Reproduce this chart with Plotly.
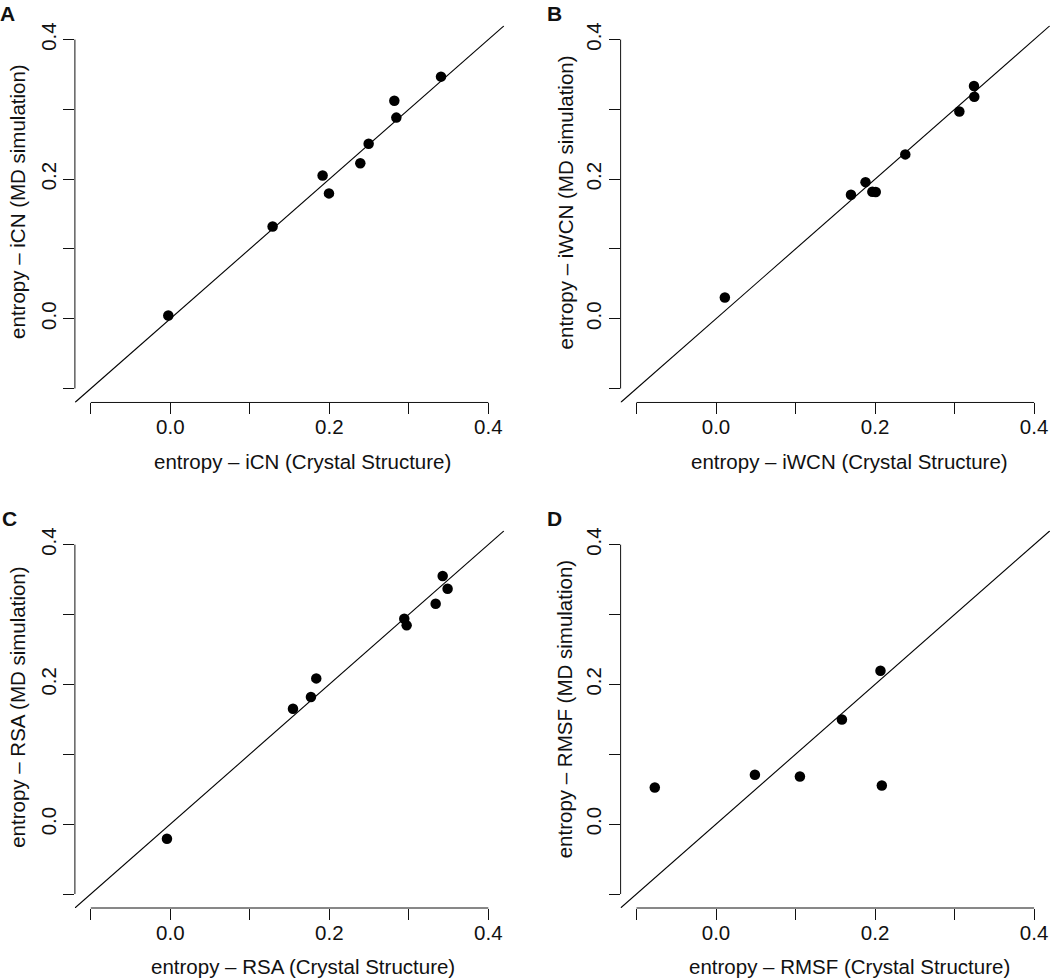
import plotly.graph_objects as go

# ---------------- data ----------------
icn_crystal = [-0.0025, 0.1287, 0.1916, 0.1996, 0.2390, 0.2495, 0.2818, 0.2843, 0.3405]
icn_md      = [0.0047, 0.1322, 0.2052, 0.1796, 0.2227, 0.2507, 0.3123, 0.2882, 0.3469]

iwcn_crystal = [0.0111, 0.1697, 0.1880, 0.1966, 0.2009, 0.2380, 0.3060, 0.3244, 0.3248]
iwcn_md      = [0.0303, 0.1777, 0.1957, 0.1820, 0.1815, 0.2355, 0.2970, 0.3336, 0.3180]

rsa_crystal = [-0.0042, 0.1543, 0.1769, 0.1836, 0.2943, 0.2973, 0.3338, 0.3426, 0.3488]
rsa_md      = [-0.0210, 0.1652, 0.1819, 0.2086, 0.2940, 0.2845, 0.3155, 0.3551, 0.3370]

rmsf_crystal = [-0.0770, 0.0489, 0.1055, 0.1583, 0.2068, 0.2085]
rmsf_md      = [0.0525, 0.0706, 0.0683, 0.1499, 0.2196, 0.0554]

panel_letters = ["A", "B", "C", "D"]
x_titles = ["entropy \u2013 iCN (Crystal Structure)", "entropy \u2013 iWCN (Crystal Structure)",
            "entropy \u2013 RSA (Crystal Structure)", "entropy \u2013 RMSF (Crystal Structure)"]
y_titles = ["entropy \u2013 iCN (MD simulation)", "entropy \u2013 iWCN (MD simulation)",
            "entropy \u2013 RSA (MD simulation)", "entropy \u2013 RMSF (MD simulation)"]
tick_vals = [-0.1, 0.0, 0.1, 0.2, 0.3, 0.4]
tick_text = ["", "0.0", "", "0.2", "", "0.4"]
axis_lo, axis_hi = -0.1, 0.4          # extent of drawn axis line
rng = [-0.12, 0.42]                   # plot range (R style 4% extension)

# ---------------- layout geometry (pixels) ----------------
W, H = 1050, 978
FONT = "Liberation Sans, Arial, Helvetica, sans-serif"
INK = "#111111"

col_px = [(74.9, 504.2), (620.6, 1050.0)]
row_px = [(22.7, 400.7), (529.3, 907.8)]

def px_x(p):
    return p / W

def px_y(p):
    return 1 - p / H

panels = [
    (icn_crystal, icn_md, 0, 0),
    (iwcn_crystal, iwcn_md, 1, 0),
    (rsa_crystal, rsa_md, 0, 1),
    (rmsf_crystal, rmsf_md, 1, 1),
]

# label positions (pixel centres)
letter_pos = [(7.5, 11), (554, 11), (9, 517.5), (554, 517.5)]
xtitle_pos = [(302.5, 460), (849.5, 460), (303, 966), (849.5, 966)]
ytitle_pos = [(17.5, 199), (565, 200), (17.5, 706.5), (564.5, 709)]

fig = go.Figure()
layout = dict(
    width=W, height=H,
    margin=dict(l=0, r=0, t=0, b=0),
    paper_bgcolor="white", plot_bgcolor="white",
    showlegend=False,
    font=dict(family=FONT, size=20, color=INK),
    shapes=[], annotations=[],
)

for i, (xs, ys, c, r) in enumerate(panels):
    n = i + 1
    xa = "x" if n == 1 else f"x{n}"
    ya = "y" if n == 1 else f"y{n}"
    fig.add_trace(go.Scatter(
        x=xs, y=ys, mode="markers", xaxis=xa, yaxis=ya,
        marker=dict(size=10.5, color="black", line=dict(width=0)),
        hoverinfo="skip", cliponaxis=False,
    ))
    xd = [px_x(col_px[c][0]), px_x(col_px[c][1])]
    yd = [px_y(row_px[r][1]), px_y(row_px[r][0])]
    common = dict(range=rng, tickvals=tick_vals, ticktext=tick_text,
                  ticks="outside", ticklen=11, tickwidth=1, tickcolor=INK,
                  showgrid=False, zeroline=False, showline=False,
                  tickfont=dict(family=FONT, size=20.5, color=INK),
                  fixedrange=True)
    layout["xaxis" if n == 1 else f"xaxis{n}"] = dict(
        domain=xd, anchor=ya, ticklabelstandoff=-5, **common)
    layout["yaxis" if n == 1 else f"yaxis{n}"] = dict(
        domain=yd, anchor=xa, tickangle=-90, ticklabelstandoff=-1, **common)

    # R-style axis lines spanning only the tick range
    layout["shapes"].append(dict(type="line", xref=xa, yref=f"{ya} domain",
                                 x0=axis_lo, x1=axis_hi, y0=0, y1=0,
                                 line=dict(color=INK, width=1)))
    layout["shapes"].append(dict(type="line", xref=f"{xa} domain", yref=ya,
                                 x0=0, x1=0, y0=axis_lo, y1=axis_hi,
                                 line=dict(color=INK, width=1)))
    # identity line y = x across the plotting range
    layout["shapes"].append(dict(type="line", xref=xa, yref=ya,
                                 x0=rng[0], y0=rng[0], x1=rng[1], y1=rng[1],
                                 line=dict(color="black", width=1.1), layer="below"))

    lx, ly = letter_pos[i]
    layout["annotations"].append(dict(
        text=f"<b>{panel_letters[i]}</b>", xref="paper", yref="paper",
        x=px_x(lx), y=px_y(ly), xanchor="center", yanchor="middle",
        showarrow=False, font=dict(family=FONT, size=21, color=INK)))
    tx, ty = xtitle_pos[i]
    layout["annotations"].append(dict(
        text=x_titles[i], xref="paper", yref="paper",
        x=px_x(tx), y=px_y(ty), xanchor="center", yanchor="middle",
        showarrow=False, font=dict(family=FONT, size=20.5, color=INK)))
    vx, vy = ytitle_pos[i]
    layout["annotations"].append(dict(
        text=y_titles[i], xref="paper", yref="paper", textangle=-90,
        x=px_x(vx), y=px_y(vy), xanchor="center", yanchor="middle",
        showarrow=False, font=dict(family=FONT, size=20.5, color=INK)))

fig.update_layout(**layout)
fig.write_html(
    "out.html",
    config={"displayModeBar": False},
    post_script="document.body.style.margin='0';document.body.style.padding='0';"
                "document.body.style.overflow='hidden';",
)
